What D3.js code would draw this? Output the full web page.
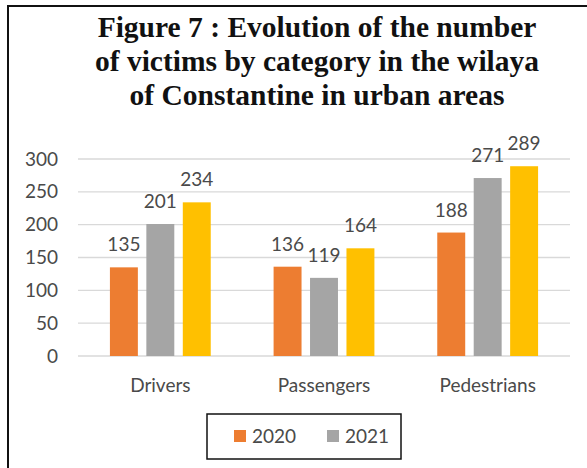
<!DOCTYPE html>
<html>
<head>
<meta charset="utf-8">
<script src="https://cdn.jsdelivr.net/npm/d3@7"></script>
<style>
  html, body { margin: 0; padding: 0; background: #fff; }
  svg { display: block; }
</style>
</head>
<body>
<svg id="chart" width="587" height="468"></svg>
<script>
// Victims by category, Constantine urban areas
const categories = ["Drivers", "Passengers", "Pedestrians"];
const seriesNames = ["2020", "2021", "2022"];
const values2020 = [135, 136, 188];
const values2021 = [201, 119, 271];
const values2022 = [234, 164, 289];
const legendNames = ["2020", "2021"];
const yTicks = [0, 50, 100, 150, 200, 250, 300];
const titleLines = [
  "Figure 7 : Evolution of the number",
  "of victims by category in the wilaya",
  "of Constantine in urban areas"
];

const seriesValues = [values2020, values2021, values2022];
const colors = d3.scaleOrdinal().domain(seriesNames).range(["#ED7D31", "#A5A5A5", "#FFC000"]);

const svg = d3.select("#chart");
const sans = "Lato, 'Open Sans', sans-serif";
const textColor = "#4a4a4a";

// frame (left and top edges)
svg.append("path")
  .attr("d", "M8,468 L8,6 L587,6")
  .attr("fill", "none").attr("stroke", "#111").attr("stroke-width", 2);

// title
svg.append("text")
  .attr("x", 317).attr("y", 37)
  .attr("text-anchor", "middle")
  .attr("font-family", "'Liberation Serif', 'Times New Roman', serif")
  .attr("font-weight", "bold").attr("font-size", 29.5).attr("fill", "#111")
  .selectAll("tspan").data(titleLines).join("tspan")
  .attr("x", 317).attr("dy", (d, i) => i === 0 ? 0 : 34)
  .text(d => d);

const plotLeft = 78, plotRight = 570, plotTop = 159, plotBottom = 356;

const y = d3.scaleLinear().domain([0, 300]).range([plotBottom, plotTop]);
const x0 = d3.scaleBand().domain(categories).range([plotLeft, plotRight])
  .paddingInner(0.384).paddingOuter(0.195);
const x1 = d3.scaleBand().domain(seriesNames).range([0, x0.bandwidth()]).paddingInner(0.233);

// gridlines
svg.append("g").selectAll("line").data(yTicks).join("line")
  .attr("x1", plotLeft).attr("x2", plotRight)
  .attr("y1", d => y(d)).attr("y2", d => y(d))
  .attr("stroke", "#D9D9D9").attr("stroke-width", 1.3);

// y axis labels
const yAxis = d3.axisLeft(y).tickValues(yTicks).tickSize(0).tickPadding(0);
const gy = svg.append("g").attr("transform", `translate(58,0)`).call(yAxis);
gy.select(".domain").remove();
gy.selectAll("text").attr("font-family", sans).attr("font-size", 19).attr("fill", textColor);

// x axis labels
const xAxis = d3.axisBottom(x0).tickSize(0).tickPadding(0);
const gx = svg.append("g").attr("transform", `translate(0,${plotBottom + 22})`).call(xAxis);
gx.select(".domain").remove();
gx.selectAll("text").attr("font-family", sans).attr("font-size", 19).attr("fill", textColor);

// bars
const rows = categories.map((c, i) => ({
  category: c,
  items: seriesNames.map((s, j) => ({ series: s, value: seriesValues[j][i] }))
}));

const groups = svg.append("g").selectAll("g").data(rows).join("g")
  .attr("transform", d => `translate(${x0(d.category)},0)`);

groups.selectAll("rect").data(d => d.items).join("rect")
  .attr("x", d => x1(d.series)).attr("width", x1.bandwidth())
  .attr("y", d => y(d.value)).attr("height", d => y(0) - y(d.value))
  .attr("fill", d => colors(d.series));

groups.selectAll("text.value").data(d => d.items).join("text")
  .attr("class", "value")
  .attr("x", d => x1(d.series) + x1.bandwidth() / 2)
  .attr("y", d => y(d.value) - 16)
  .attr("text-anchor", "middle")
  .attr("font-family", sans).attr("font-size", 19).attr("fill", textColor)
  .text(d => d.value);

// legend
const legend = svg.append("g");
legend.append("rect")
  .attr("x", 207).attr("y", 414).attr("width", 194).attr("height", 45)
  .attr("fill", "#fff").attr("stroke", "#111").attr("stroke-width", 1.5);
const legendItems = legend.selectAll("g.item").data(legendNames).join("g")
  .attr("class", "item")
  .attr("transform", (d, i) => `translate(${234 + i * 93},0)`);
legendItems.append("rect")
  .attr("x", 0).attr("y", 430).attr("width", 12).attr("height", 12)
  .attr("fill", d => colors(d));
legendItems.append("text")
  .attr("x", 18).attr("y", 443)
  .attr("font-family", sans).attr("font-size", 19).attr("fill", textColor)
  .text(d => d);
</script>
</body>
</html>
